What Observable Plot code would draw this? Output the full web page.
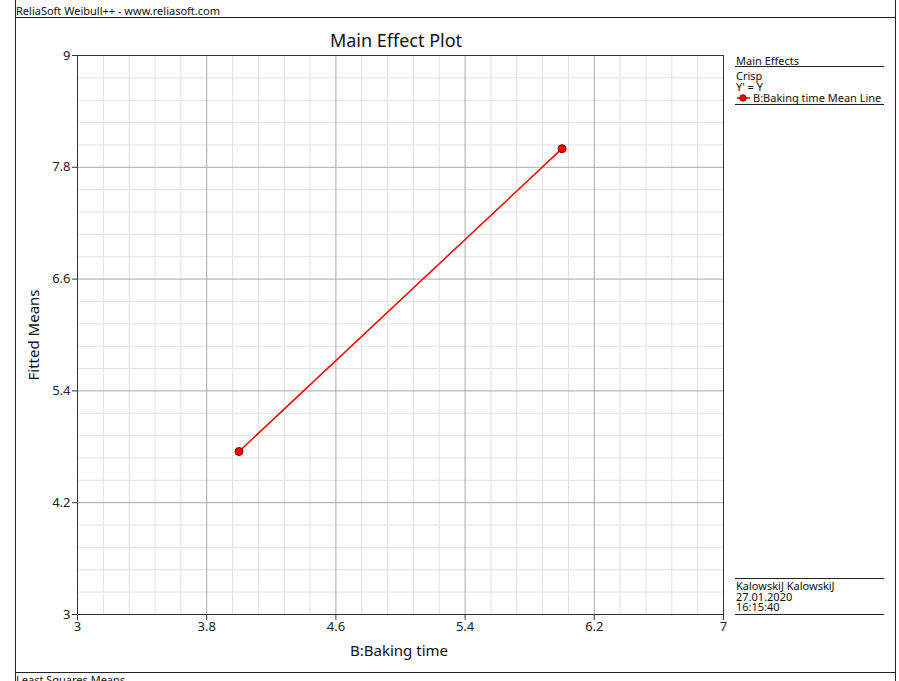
<!DOCTYPE html>
<html>
<head>
<meta charset="utf-8">
<script src="https://cdn.jsdelivr.net/npm/d3@7"></script>
<script src="https://cdn.jsdelivr.net/npm/@observablehq/plot@0.6"></script>
<style>
  html, body { margin: 0; padding: 0; background: #fff; }
  #wrap { position: relative; width: 899px; height: 681px; overflow: hidden; font-family: "Noto Sans", "DejaVu Sans", sans-serif; color: #111; }
  #wrap svg.plot { position: absolute; left: 0; top: 0; }
  .t { position: absolute; white-space: nowrap; font-size: 11px; line-height: 11px; }
  .hl { position: absolute; height: 0; border-top: 1px solid #222; }
  .vl { position: absolute; width: 0; border-left: 1px solid #222; }
</style>
</head>
<body>
<div id="wrap"></div>
<script>
// ---- data ----
const chartTitle = "Main Effect Plot";
const xLabel = "B:Baking time";
const yLabel = "Fitted Means";
const xTicks = [3, 3.8, 4.6, 5.4, 6.2, 7];
const yTicks = [3, 4.2, 5.4, 6.6, 7.8, 9];
const bakingTime = [4, 6];
const fittedMeans = [4.75, 8.0];
const seriesName = "B:Baking time Mean Line";
const headerText = "ReliaSoft Weibull++ - www.reliasoft.com";
const legendTitle = "Main Effects";
const legendLines = ["Crisp", "Y' = Y"];
const footerLines = ["KalowskiJ KalowskiJ", "27.01.2020", "16:15:40"];
const captionText = "Least Squares Means";

const data = bakingTime.map((x, i) => ({x, y: fittedMeans[i]}));
function minor(ticks) {
  const out = [];
  for (let i = 0; i < ticks.length - 1; i++) {
    const s = (ticks[i + 1] - ticks[i]) / 5;
    for (let k = 1; k < 5; k++) out.push(+(ticks[i] + k * s).toFixed(4));
  }
  return out;
}

const plot = Plot.plot({
  width: 899,
  height: 681,
  marginLeft: 77,
  marginRight: 176,
  marginTop: 55,
  marginBottom: 67,
  x: {domain: [3, 7]},
  y: {domain: [3, 9]},
  style: {fontFamily: "'Noto Sans', 'DejaVu Sans', sans-serif", fontSize: "13px", color: "#222", background: "transparent"},
  marks: [
    Plot.ruleX(minor(xTicks), {stroke: "#e2e2e2", strokeWidth: 1}),
    Plot.ruleY(minor(yTicks), {stroke: "#e2e2e2", strokeWidth: 1}),
    Plot.ruleX(xTicks, {stroke: "#a9a9a9", strokeWidth: 1}),
    Plot.ruleY(yTicks, {stroke: "#a9a9a9", strokeWidth: 1}),
    Plot.frame({stroke: "#333", strokeWidth: 1}),
    Plot.axisX({ticks: xTicks, tickSize: 6, tickPadding: 1, tickFormat: d => String(d), label: null, stroke: "#333", fontSize: 13}),
    Plot.axisY({ticks: yTicks, tickSize: 5, tickPadding: 2, tickFormat: d => String(d), label: null, stroke: "#333", fontSize: 13}),
    Plot.line(data, {x: "x", y: "y", stroke: "#ff0000", strokeWidth: 1.5}),
    Plot.dot(data, {x: "x", y: "y", r: 4, fill: "#ff0000", stroke: "#800000", strokeWidth: 1})
  ]
});
plot.classList.add("plot");
const wrap = document.getElementById("wrap");
wrap.appendChild(plot);

function add(html) { wrap.insertAdjacentHTML("beforeend", html); }
// outer frame lines
add(`<div class="vl" style="left:15px; top:0; height:681px"></div>`);
add(`<div class="vl" style="left:895px; top:0; height:681px"></div>`);
add(`<div class="hl" style="left:15px; top:17px; width:881px"></div>`);
add(`<div class="hl" style="left:15px; top:672px; width:881px"></div>`);
add(`<div class="t" style="left:16px; top:5px">${headerText}</div>`);
add(`<div class="t" style="left:16px; top:674px">${captionText}</div>`);
// title and axis labels
add(`<div class="t" style="left:396px; top:30px; font-size:18px; line-height:20px; transform:translateX(-50%)">${chartTitle}</div>`);
add(`<div class="t" style="left:399px; top:641px; font-size:15px; line-height:18px; transform:translateX(-50%)">${xLabel}</div>`);
add(`<div class="t" style="left:33px; top:335px; font-size:15px; line-height:18px; transform:translate(-50%,-50%) rotate(-90deg)">${yLabel}</div>`);
// legend
add(`<div class="t" style="left:736px; top:55px">${legendTitle}</div>`);
add(`<div class="hl" style="left:735px; top:66px; width:149px"></div>`);
add(`<div class="t" style="left:736px; top:70px">${legendLines.join("<br>")}<br><svg width="17" height="11" style="vertical-align:top"><line x1="1" y1="6" x2="14" y2="6" stroke="#ff0000" stroke-width="1.5"/><circle cx="7" cy="6" r="3.2" fill="#ff0000" stroke="#800000"/></svg>${seriesName}</div>`);
add(`<div class="hl" style="left:735px; top:104px; width:149px"></div>`);
// footer
add(`<div class="hl" style="left:735px; top:578px; width:149px"></div>`);
add(`<div class="t" style="left:736px; top:581px; line-height:10.5px">${footerLines.join("<br>")}</div>`);
add(`<div class="hl" style="left:735px; top:614px; width:149px"></div>`);
</script>
</body>
</html>
